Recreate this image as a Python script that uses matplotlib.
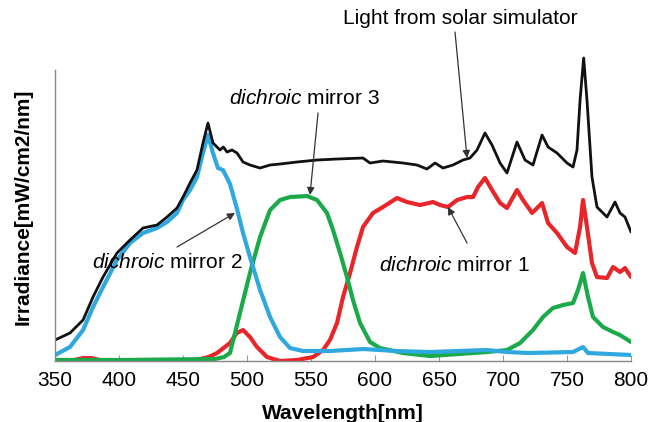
import matplotlib
matplotlib.use('Agg')
import matplotlib.pyplot as plt

plt.rcParams['font.family'] = ['Liberation Sans', 'DejaVu Sans']
plt.rcParams['mathtext.fontset'] = 'custom'
plt.rcParams['mathtext.rm'] = 'Liberation Sans'
plt.rcParams['mathtext.it'] = 'Liberation Sans:italic'

# light from solar simulator
wl_black = [350, 361.7, 371.9, 379.7, 387.5, 398.4, 408.6, 418.75, 429.7, 437.5, 445.3,
            450, 455.5, 460.9, 465.6, 469.5, 473.4, 478.9, 481.5, 484.4, 488.3, 492.2,
            496.9, 502.3, 510.2, 518, 525.8, 539, 554.7, 570.3, 590.6, 596.1, 606.25,
            621.9, 632.8, 640.6, 646.9, 653.1, 660.9, 668.75, 674.2, 679.7, 685.9, 691.4,
            697.7, 703.1, 710.9, 717.2, 723.4, 730.5, 735.2, 742.2, 750, 754.7, 757.8,
            760.2, 763, 765.6, 769.5, 773.4, 781.25, 787.5, 791.4, 795.3, 800]
irr_black = [21, 28, 41, 64, 84, 108, 121, 133, 136, 144, 153,
             164, 178, 191, 218, 238, 218, 211, 214, 209, 211, 208,
             199, 196, 193, 196, 197, 199, 201, 202, 203, 198, 200,
             198, 196, 192, 198, 193, 196, 201, 203, 211, 228, 216,
             198, 188, 219, 201, 196, 226, 214, 208, 198, 194, 211,
             261, 303, 261, 184, 154, 144, 159, 148, 144, 129]

# dichroic mirror 2
wl_blue = [350, 361.7, 371.9, 379.7, 387.5, 398.4, 408.6, 418.75, 429.7, 437.5, 445.3,
           450, 455.5, 460.9, 465.6, 469.5, 473.4, 477.3, 481.25, 486.7, 492.2, 496.9,
           502.3, 510.2, 518, 525.8, 533.6, 543.75, 564.8, 590.6, 617, 643, 687.5, 703.1,
           720, 754.7, 762.5, 766.4, 800]
irr_blue = [6, 14, 31, 54, 74, 101, 118, 128, 133, 139, 148,
            161, 171, 184, 208, 226, 208, 193, 191, 177, 152, 128,
            104, 71, 44, 24, 13, 10, 10, 12, 10, 9, 11, 9,
            8, 9, 14, 8, 6]

# dichroic mirror 3
wl_green = [350, 400, 475, 482, 486.7, 494.5, 502.3, 510.2, 518, 525.8, 533.6, 546.9,
            554.7, 562.5, 567.2, 572.7, 578.1, 582.8, 588.3, 596.1, 603.9, 621.9, 643,
            687.5, 703.1, 713.3, 723.4, 731.25, 739, 746.9, 754.7, 758.6, 762.5, 766.4,
            770.3, 778.1, 786, 791.4, 800]
irr_green = [1, 1, 2, 4, 8, 48, 88, 124, 151, 161, 164, 165,
             161, 148, 131, 108, 84, 61, 38, 19, 13, 8, 5,
             9, 11, 18, 31, 44, 53, 56, 58, 71, 88, 64,
             44, 34, 29, 26, 19]

# dichroic mirror 1
wl_red = [350, 365, 372, 378, 385, 400, 460, 470, 476.6, 486.7, 492, 496.9, 502.3, 507.8,
          515.6, 525.8, 539, 551.6, 559.4, 564.8, 570.3, 575, 580.5, 585.9, 590.6, 598.4,
          606.25, 617.2, 625, 635.2, 645.3, 650.8, 657, 664.1, 671.9, 676.6, 680.5, 685.9,
          691.4, 697.7, 703.1, 710.9, 715.6, 722.7, 730.5, 735.2, 742.2, 750, 756.25,
          760.2, 762.5, 765.6, 769.5, 773.4, 781.25, 786, 791.4, 795.3, 800]
irr_red = [1, 1, 3, 3, 1, 0, 1, 4, 8, 18, 28, 31, 24, 14,
           4, 0, 1, 4, 11, 21, 38, 64, 88, 114, 134, 148,
           154, 163, 159, 156, 159, 156, 154, 161, 164, 164, 174, 183,
           171, 158, 153, 171, 161, 148, 158, 138, 128, 114, 108,
           134, 161, 134, 98, 84, 83, 94, 89, 93, 84]

xticks = [350, 400, 450, 500, 550, 600, 650, 700, 750, 800]

fig = plt.figure(figsize=(6.51, 4.22), dpi=100)
ax = fig.add_axes([0.0845, 0.1445, 0.8848, 0.737])

kw = dict(solid_joinstyle='round', solid_capstyle='round')
ax.plot(wl_red, irr_red, color='#e8262a', lw=3.0, **kw)
ax.plot(wl_green, irr_green, color='#1aaa4a', lw=3.0, **kw)
ax.plot(wl_blue, irr_blue, color='#2fa8e0', lw=3.0, **kw)
ax.plot(wl_black, irr_black, color='#111111', lw=2.0, **kw)

ax.set_xlim(350, 800)
ax.set_ylim(0, 311)
ax.set_xticks(xticks)
ax.set_yticks([])
ax.tick_params(axis='x', direction='in', length=4, color='#999999', labelsize=15, pad=7)
for s in ['top', 'right']:
    ax.spines[s].set_visible(False)
for s in ['left', 'bottom']:
    ax.spines[s].set_color('#888888')
    ax.spines[s].set_linewidth(1.0)
ax.spines['left'].set_bounds(0, 291)

ax.set_xlabel('Wavelength[nm]', fontsize=15, fontweight='bold', labelpad=10)
ax.set_ylabel('Irradiance[mW/cm2/nm]', fontsize=15, fontweight='bold')
ax.yaxis.set_label_coords(-0.038, 0.495)

arrow = dict(arrowstyle='-|>', color='#333333', lw=0.9, mutation_scale=11,
             shrinkA=0, shrinkB=0)
ax.annotate('', xy=(671.9, 203), xytext=(662.5, 329), arrowprops=arrow, annotation_clip=False)
ax.annotate('', xy=(549.2, 166), xytext=(555.5, 248), arrowprops=arrow)
ax.annotate('', xy=(490.6, 148), xytext=(445.3, 114), arrowprops=arrow)
ax.annotate('', xy=(657, 154), xytext=(671.9, 118), arrowprops=arrow)

ax.text(666.4, 343, 'Light from solar simulator', fontsize=15, ha='center', va='center',
        clip_on=False)
ax.text(544.5, 263, r'$\it{dichroic}$ mirror 3', fontsize=15, ha='center', va='center')
ax.text(437.4, 99, r'$\it{dichroic}$ mirror 2', fontsize=15, ha='center', va='center')
ax.text(661.7, 96, r'$\it{dichroic}$ mirror 1', fontsize=15, ha='center', va='center')

fig.savefig('out.png', dpi=100)
